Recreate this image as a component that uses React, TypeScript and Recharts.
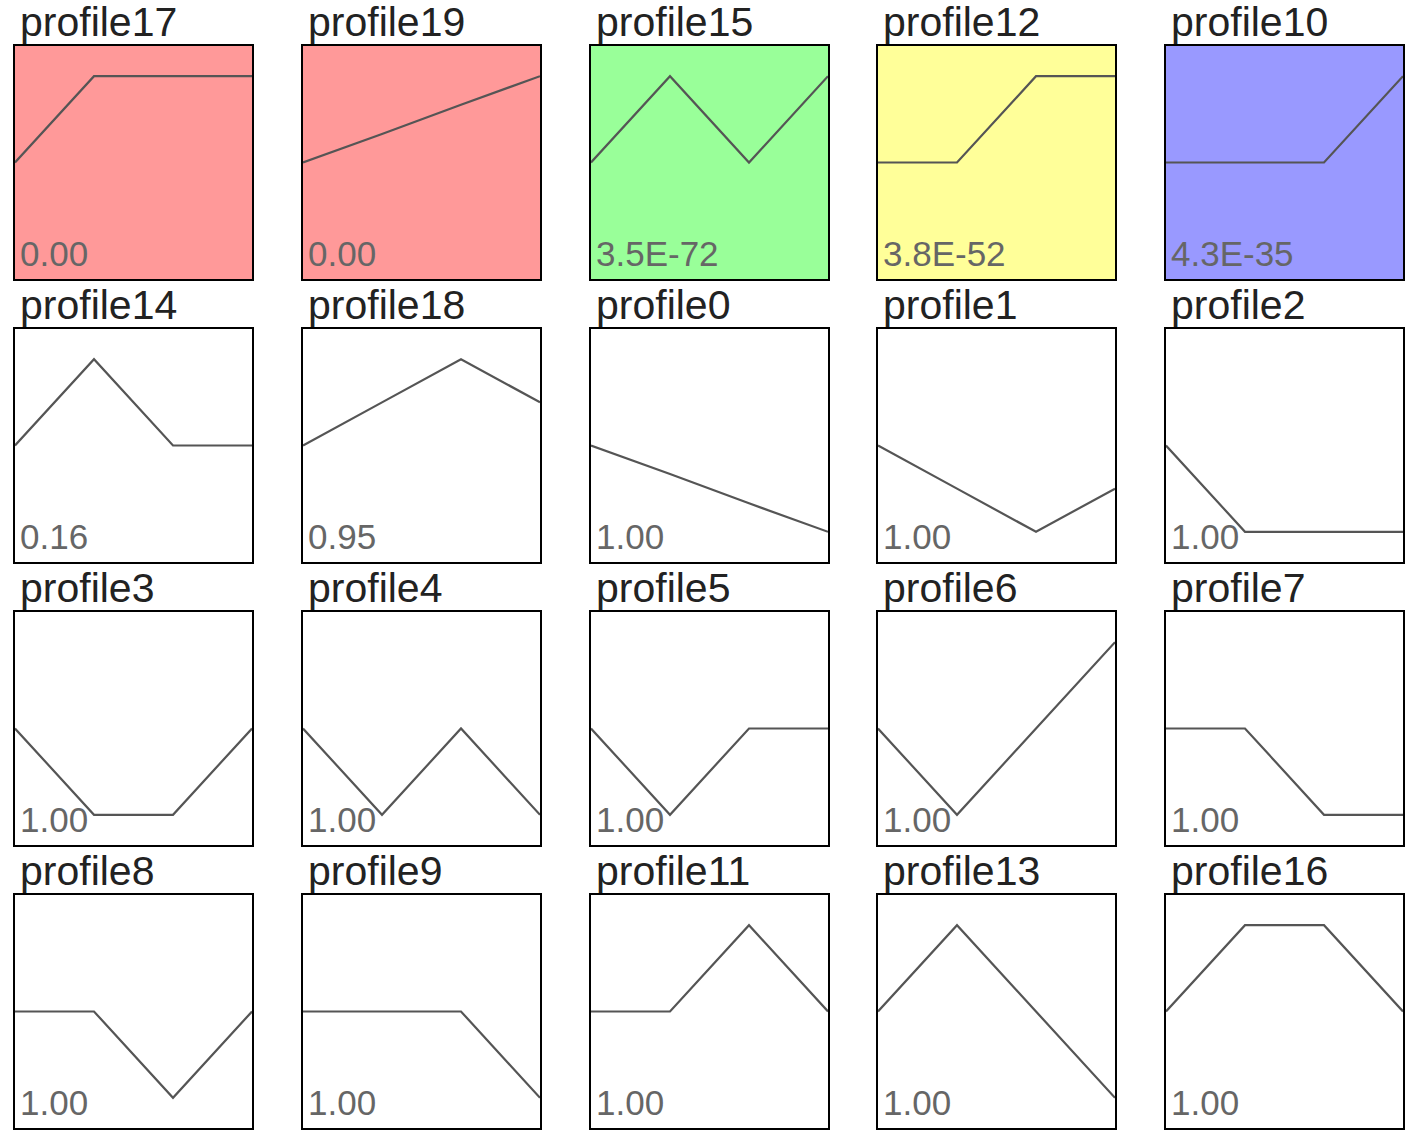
import { LineChart, Line, XAxis, YAxis } from "recharts";

const steps = [0, 1, 2, 3];

const profileNames = [
  "profile17", "profile19", "profile15", "profile12", "profile10",
  "profile14", "profile18", "profile0", "profile1", "profile2",
  "profile3", "profile4", "profile5", "profile6", "profile7",
  "profile8", "profile9", "profile11", "profile13", "profile16",
];

const profileValues = [
  [0, 1, 1, 1], [0, 0.33, 0.67, 1], [0, 1, 0, 1], [0, 0, 1, 1], [0, 0, 0, 1],
  [0, 1, 0, 0], [0, 0.5, 1, 0.5], [0, -0.33, -0.67, -1], [0, -0.5, -1, -0.5], [0, -1, -1, -1],
  [0, -1, -1, 0], [0, -1, 0, -1], [0, -1, 0, 0], [0, -1, 0, 1], [0, 0, -1, -1],
  [0, 0, -1, 0], [0, 0, 0, -1], [0, 0, 1, 0], [0, 1, 0, -1], [0, 1, 1, 0],
];

const pValues = [
  "0.00", "0.00", "3.5E-72", "3.8E-52", "4.3E-35",
  "0.16", "0.95", "1.00", "1.00", "1.00",
  "1.00", "1.00", "1.00", "1.00", "1.00",
  "1.00", "1.00", "1.00", "1.00", "1.00",
];

const fills = [
  "#ff9999", "#ff9999", "#99ff99", "#ffff99", "#9999ff",
  "#fff", "#fff", "#fff", "#fff", "#fff",
  "#fff", "#fff", "#fff", "#fff", "#fff",
  "#fff", "#fff", "#fff", "#fff", "#fff",
];

const COL_X = [13, 301, 589, 876, 1164];
const ROW_Y = [44, 327, 610, 893];
const BOX_W = 241;
const BOX_H = 237;
const BORDER = 2;
const FONT = "'Liberation Sans', Arial, sans-serif";

function Panel({ i }: { i: number }) {
  const x = COL_X[i % 5];
  const y = ROW_Y[Math.floor(i / 5)];
  const data = steps.map((s, k) => ({ step: s, v: profileValues[i][k] }));
  return (
    <>
      <div style={{ position: "absolute", left: x + 7, top: y - 42, fontSize: 41, lineHeight: "40px", color: "#222", fontFamily: FONT, whiteSpace: "nowrap" }}>
        {profileNames[i]}
      </div>
      <div style={{ position: "absolute", left: x, top: y, width: BOX_W, height: BOX_H, boxSizing: "border-box", border: `${BORDER}px solid #000`, background: fills[i] }}>
        <LineChart width={BOX_W - 2 * BORDER} height={BOX_H - 2 * BORDER} data={data} margin={{ top: 0, right: 0, bottom: 0, left: 0 }}>
          <XAxis dataKey="step" type="number" domain={[0, 3]} hide />
          <YAxis type="number" domain={[-1.35, 1.35]} hide />
          <Line dataKey="v" stroke="#555" strokeWidth={2.2} dot={false} isAnimationActive={false} />
        </LineChart>
      </div>
      <div style={{ position: "absolute", left: x + 7, top: y + 192, fontSize: 35, lineHeight: "35px", color: "#666", fontFamily: FONT, whiteSpace: "nowrap" }}>
        {pValues[i]}
      </div>
    </>
  );
}

export default function App() {
  return (
    <div style={{ position: "absolute", left: 0, top: 0, width: 1417, height: 1141, background: "#fff", overflow: "hidden" }}>
      {profileNames.map((_, i) => <Panel key={i} i={i} />)}
    </div>
  );
}
